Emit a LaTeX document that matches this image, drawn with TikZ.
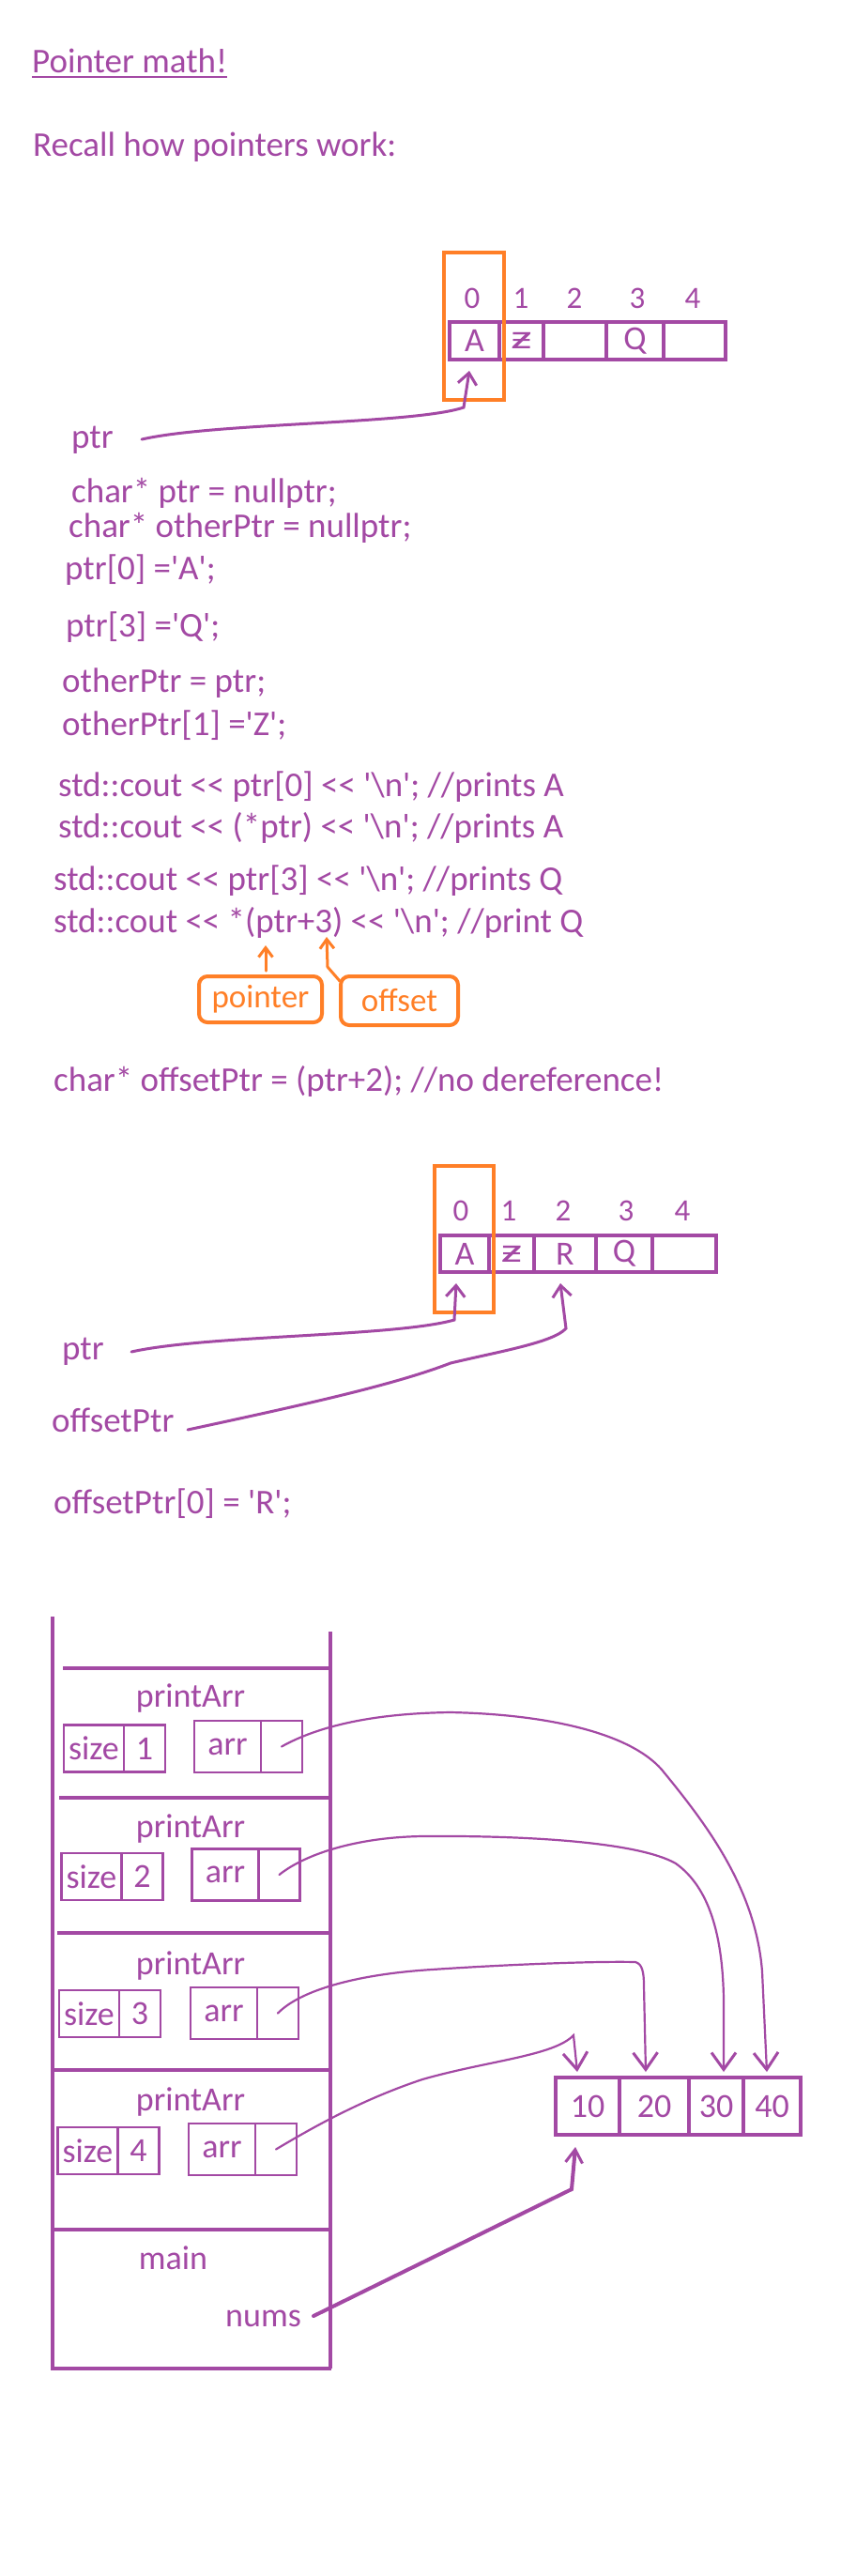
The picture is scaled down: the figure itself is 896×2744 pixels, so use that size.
\documentclass[tikz,border=0pt]{standalone}
\usepackage{fontspec}
\usepackage{graphicx}
\newfontfamily\calfont{Carlito}
\usetikzlibrary{arrows.meta,calc}
\definecolor{pur}{RGB}{163,73,164}
\definecolor{org}{RGB}{255,127,39}
\newcommand\zbar{\scalebox{1.6}[1.0]{ƶ}}
% #1 id, #2 box y, #3 value, #4 label baseline, #5 size-box x, #6 arr-box x, #7 arr-box y
\newcommand\callframe[7]{%
  \node[fname] (f#1) at (203,#4) {printArr};
  \node[sbox, minimum width=64pt, minimum height=50pt] (size#1) at (#5,#2) {size};
  \node[sbox, minimum width=44pt, minimum height=50pt, anchor=west] (val#1) at (size#1.east) {#3};
  \node[sbox, minimum width=71pt, minimum height=55pt] (arr#1) at (#6,#7) {arr};
  \node[sbox, minimum width=44pt, minimum height=55pt, anchor=west] (q#1) at (arr#1.east) {};
}
\begin{document}
\begin{tikzpicture}[x=1pt,y=-1pt,
  txt/.style={anchor=base west, inner sep=0pt, text=pur, font=\calfont\fontsize{37}{40}\selectfont},
  idx/.style={anchor=base, inner sep=0pt, text=pur, font=\calfont\fontsize{33}{36}\selectfont},
  fname/.style={anchor=base, inner sep=0pt, text=pur, font=\calfont\fontsize{36}{40}\selectfont},
  cell/.style={draw=pur, line width=4pt, text=pur, inner sep=0pt, outer sep=0pt, font=\calfont\fontsize{36}{40}\selectfont},
  ncell/.style={draw=pur, line width=4pt, text=pur, inner sep=0pt, outer sep=0pt, minimum height=61pt, font=\calfont\fontsize{36}{40}\selectfont},
  sbox/.style={draw=pur, line width=2.3pt, text=pur, inner sep=0pt, outer sep=0pt, font=\calfont\fontsize{36}{40}\selectfont},
  hl/.style={draw=org, line width=4pt, inner sep=0pt, outer sep=0pt},
  callout/.style={draw=org, line width=4pt, rounded corners=9pt, text=org, inner sep=0pt, outer sep=0pt, font=\calfont\fontsize{35}{40}\selectfont},
  parrow/.style={draw=pur, line width=3pt, line cap=round, -{Straight Barb[length=12pt,width=20pt,line width=3pt]}},
  carrow/.style={draw=pur, line width=2.2pt, line cap=round, -{Straight Barb[length=18pt,width=26pt,line width=3pt]}},
  narrow/.style={draw=pur, line width=4pt, line cap=round, -{Straight Barb[length=14pt,width=18pt,line width=3pt]}},
  oarrow/.style={draw=org, line width=3pt, line cap=round, -{Straight Barb[length=10pt,width=15pt,line width=3pt]}},
  frame/.style={draw=pur, line width=4pt}
]
\useasboundingbox (0,0) rectangle (896,2744);
\fill[white] (0,0) rectangle (896,2744);

% headings
\node[txt] (title) at (34,77) {Pointer math!};
\draw[pur,line width=2pt] ([yshift=-5pt]title.base west) -- ([yshift=-5pt]title.base east);
\node[txt] (recall) at (35,166) {Recall how pointers work:};

% first array
\foreach \n/\x/\w/\t in {0/505.5/53/A,1/555.5/47/\zbar,2/612.5/67/{},3/676.5/61/Q,4/740/66/{}}
  \node[cell, minimum width=\w pt, minimum height=40pt] (a\n) at (\x,363) {\t};
\foreach \n/\x in {0/503,1/555,2/612,3/679,4/738}
  \node[idx] (i\n) at (\x,328) {\n};
\node[hl, minimum width=64pt, minimum height=157pt] (h1) at (505,347.5) {};
\node[txt] (ptrA) at (76,477) {ptr};
\coordinate (ptrAs) at (151,468);
\draw[parrow] (ptrAs) .. controls (230,450) and (440,452) .. (494,434) -- ([xshift=-5.5pt,yshift=-12pt]a0.south);

% code
\node[txt] (l1) at (76,535) {char* ptr = nullptr;};
\node[txt] (l2) at (73,572) {char* otherPtr = nullptr;};
\node[txt] (l3) at (69,617) {ptr[0] ='A';};
\node[txt] (l4) at (70,678) {ptr[3] ='Q';};
\node[txt] (l5) at (66,737) {otherPtr = ptr;};
\node[txt] (l6) at (66,783) {otherPtr[1] ='Z';};
\node[txt] (l7) at (62,848) {std::cout << ptr[0] << '\textbackslash n'; //prints A};
\node[txt] (l8) at (62,892) {std::cout << (*ptr) << '\textbackslash n'; //prints A};
\node[txt] (l9) at (57,948) {std::cout << ptr[3] << '\textbackslash n'; //prints Q};
\node[txt] (l10) at (57,993) {std::cout << *(ptr+3) << '\textbackslash n'; //print Q};

% callouts
\node[callout, minimum width=131pt, minimum height=49pt] (pnode) at (277.5,1064.5) {pointer};
\node[callout, minimum width=125pt, minimum height=52pt] (onode) at (425.5,1066) {offset};
\coordinate (ptarget) at (283,1007);
\coordinate (otarget) at (348,998);
\draw[oarrow] ([xshift=5.5pt,yshift=6pt]pnode.north) -- (ptarget);
\draw[oarrow] ([xshift=-1pt,yshift=-5pt]onode.north west) -- (349,1030) -- (otarget);

\node[txt] (l11) at (57,1162) {char* offsetPtr = (ptr+2); //no dereference!};

% second array
\foreach \n/\x/\w/\t in {0/495/52/A,1/545/48/\zbar,2/602/66/R,3/665/60/Q,4/729/68/{}}
  \node[cell, minimum width=\w pt, minimum height=39pt] (b\n) at (\x,1335.5) {\t};
\foreach \n/\x in {0/491,1/542,2/600,3/667,4/727}
  \node[idx] (j\n) at (\x,1300) {\n};
\node[hl, minimum width=63pt, minimum height=156pt] (h2) at (494.5,1320) {};
\node[txt] (ptrB) at (66,1448) {ptr};
\coordinate (ptrBs) at (140,1440);
\draw[parrow] (ptrBs) .. controls (220,1422) and (420,1424) .. (484,1406) -- ([xshift=-9pt,yshift=-12pt]b0.south);
\node[txt] (offB) at (55,1525) {offsetPtr};
\coordinate (offBs) at (200,1523);
\draw[parrow] (offBs) .. controls (330,1495) and (420,1475) .. (480,1452)
  .. controls (530,1440) and (590,1430) .. (603,1415) -- ([xshift=-5pt,yshift=-12pt]b2.south);

\node[txt] (l12) at (57,1612) {offsetPtr[0] = 'R';};

% stack
\draw[frame] (56,1722) -- (56,2523) -- (353,2523);
\draw[frame] (352,1738) -- (352,2523);
\foreach \y/\xl in {1777/67,1915/63,2059/61,2205/57,2375/57}
  \draw[frame] (\xl,\y) -- (352,\y);
\callframe{1}{1862.5}{1}{1818}{100}{242.5}{1860.5}
\callframe{2}{1999}{2}{1957}{97.5}{240}{1997}
\callframe{3}{2145}{3}{2103}{95}{238.5}{2144.5}
\callframe{4}{2291}{4}{2248}{93.5}{236.5}{2289.5}
\node[fname] (mainf) at (184.5,2417) {main};
\node[fname, anchor=base west] (nums) at (240,2478) {nums};

% nums array
\foreach \n/\x/\w in {10/626/68,20/697/74,30/763/58,40/822.5/61}
  \node[ncell, minimum width=\w pt] (n\n) at (\x,2243.5) {\n};

% pointers from frames
\draw[carrow] (q1.center) .. controls (340,1838) and (400,1825) .. (480,1824)
  .. controls (580,1826) and (670,1845) .. (705,1885)
  .. controls (750,1940) and (805,2010) .. (812,2100) -- ([xshift=-5.5pt,yshift=6pt]n40.north);
\draw[carrow] (q2.center) .. controls (325,1975) and (380,1957) .. (450,1956)
  .. controls (560,1955) and (680,1962) .. (720,1985)
  .. controls (755,2010) and (770,2060) .. (771,2130) -- ([xshift=8pt,yshift=6pt]n30.north);
\draw[carrow] (q3.center) .. controls (320,2120) and (380,2103) .. (460,2098)
  .. controls (550,2092) and (640,2089) .. (677,2090)
  .. controls (684,2092) and (686,2100) .. (686,2115) -- ([xshift=-9pt,yshift=6pt]n20.north);
\draw[carrow] (q4.center) .. controls (340,2262) and (390,2235) .. (450,2215)
  .. controls (520,2195) and (590,2190) .. (611,2168) -- ([xshift=-11pt,yshift=6pt]n10.north);
\draw[narrow] ([xshift=13pt,yshift=11pt]nums.base east) -- (609,2332) -- ([xshift=-13pt,yshift=-13pt]n10.south);
\end{tikzpicture}
\end{document}
